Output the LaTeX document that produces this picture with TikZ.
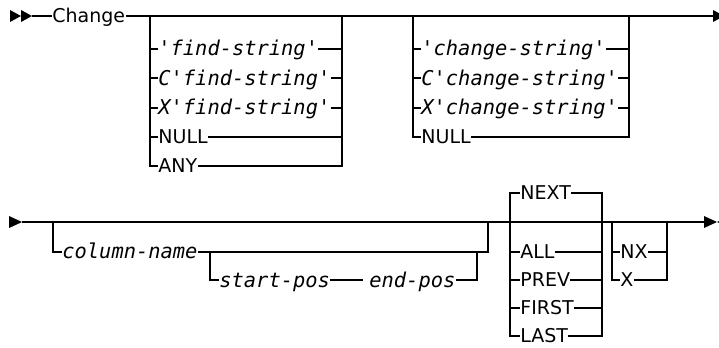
\documentclass[tikz,border=0pt]{standalone}
\usepackage{fontspec}
\setmainfont{DejaVu Sans}
\setmonofont{DejaVu Sans Mono}
\usepackage{tikz}
\usetikzlibrary{calc}

\begin{document}
\begin{tikzpicture}[
  x=0.5pt, y=-0.5pt,
  kw/.style={inner sep=0pt, anchor=west, text height=6.9pt, text depth=0pt, font=\fontsize{9.5}{11}\selectfont},
  var/.style={inner sep=0pt, anchor=west, text height=7.4pt, text depth=0pt, font=\fontsize{10.2}{12}\selectfont\ttfamily\itshape},
  rail/.style={line width=1pt},
  every node/.style={inner sep=0pt}
]
\useasboundingbox (0,0) rectangle (719,348);

% First line: start
\fill (10,10) -- (21,16) -- (10,22) -- cycle;
\fill (21,10) -- (32,16) -- (21,22) -- cycle;
\coordinate (s1) at (32,16);
\node[kw] (change) at (52,16) {Change};
\coordinate (e1) at (713,16);
\draw[rail] (s1) -- (change.west);
\draw[rail] (change.east) -- (e1);
\fill (713,10) -- (724,16) -- (713,22) -- cycle;

% Find string choices
\coordinate (fl) at (150,16);
\coordinate (fr) at (342,16);
\node[var] (f1) at (158,48.5) {'find-string'};
\node[var] (f2) at (158,78) {C'find-string'};
\node[var] (f3) at (158,107.5) {X'find-string'};
\node[kw] (f4) at (158,137) {NULL};
\node[kw] (f5) at (158,166) {ANY};
\draw[rail] (fl) |- (f5.west);
\draw[rail] (f5.east) -| (fr);
\draw[rail] (fl |- f1) -- (f1.west) (f1.east) -- (fr |- f1);
\draw[rail] (fl |- f2) -- (f2.west) (f2.east) -- (fr |- f2);
\draw[rail] (fl |- f3) -- (f3.west) (f3.east) -- (fr |- f3);
\draw[rail] (fl |- f4) -- (f4.west) (f4.east) -- (fr |- f4);

% Change string choices
\coordinate (gl) at (413,16);
\coordinate (gr) at (629,16);
\node[var] (g1) at (421,48.5) {'change-string'};
\node[var] (g2) at (421,78) {C'change-string'};
\node[var] (g3) at (421,107.5) {X'change-string'};
\node[kw] (g4) at (421,137) {NULL};
\draw[rail] (gl) |- (g4.west);
\draw[rail] (g4.east) -| (gr);
\draw[rail] (gl |- g1) -- (g1.west) (g1.east) -- (gr |- g1);
\draw[rail] (gl |- g2) -- (g2.west) (g2.east) -- (gr |- g2);
\draw[rail] (gl |- g3) -- (g3.west) (g3.east) -- (gr |- g3);

% Second line
\fill (9,216) -- (22,222) -- (9,228) -- cycle;
\coordinate (s2) at (22,222);
\coordinate (e2) at (704,222);
\draw[rail] (s2) -- (e2);
\fill (704,216) -- (717,222) -- (704,228) -- cycle;
\fill (717,222) -- (730,216) -- (730,228) -- cycle;

% Column and positions
\coordinate (cl) at (53,222);
\coordinate (cr) at (488,222);
\node[var] (col) at (62,251.5) {column-name};
\draw[rail] (cl) |- (col.west);
\draw[rail] (col.east) -| (cr);
\coordinate (pl) at (210,251.5);
\coordinate (pr) at (477,251.5);
\node[var] (spos) at (219,280) {start-pos};
\node[var] (epos) at (369,280) {end-pos};
\draw[rail] (pl) |- (spos.west);
\draw[rail] (spos.east) -- ($(epos.west)+(-6,0)$);
\draw[rail] (epos.east) -| (pr);

% Direction
\coordinate (nl) at (510,222);
\coordinate (nr) at (602,222);
\node[kw] (next) at (520,192.5) {NEXT};
\node[kw] (all) at (520,251.5) {ALL};
\node[kw] (prev) at (520,280) {PREV};
\node[kw] (first) at (520,308) {FIRST};
\node[kw] (last) at (520,336) {LAST};
\draw[rail] (next.west) -| (nl) |- (last.west);
\draw[rail] (next.east) -| (nr) |- (last.east);
\draw[rail] (nl |- all) -- (all.west) (all.east) -- (nr |- all);
\draw[rail] (nl |- prev) -- (prev.west) (prev.east) -- (nr |- prev);
\draw[rail] (nl |- first) -- (first.west) (first.east) -- (nr |- first);

% NX / X
\coordinate (xl) at (612,222);
\coordinate (xr) at (667,222);
\node[kw] (nx) at (620,251.5) {NX};
\node[kw] (xx) at (620,280) {X};
\draw[rail] (xl) |- (xx.west);
\draw[rail] (xx.east) -| (xr);
\draw[rail] (xl |- nx) -- (nx.west) (nx.east) -- (xr |- nx);

\end{tikzpicture}
\end{document}
